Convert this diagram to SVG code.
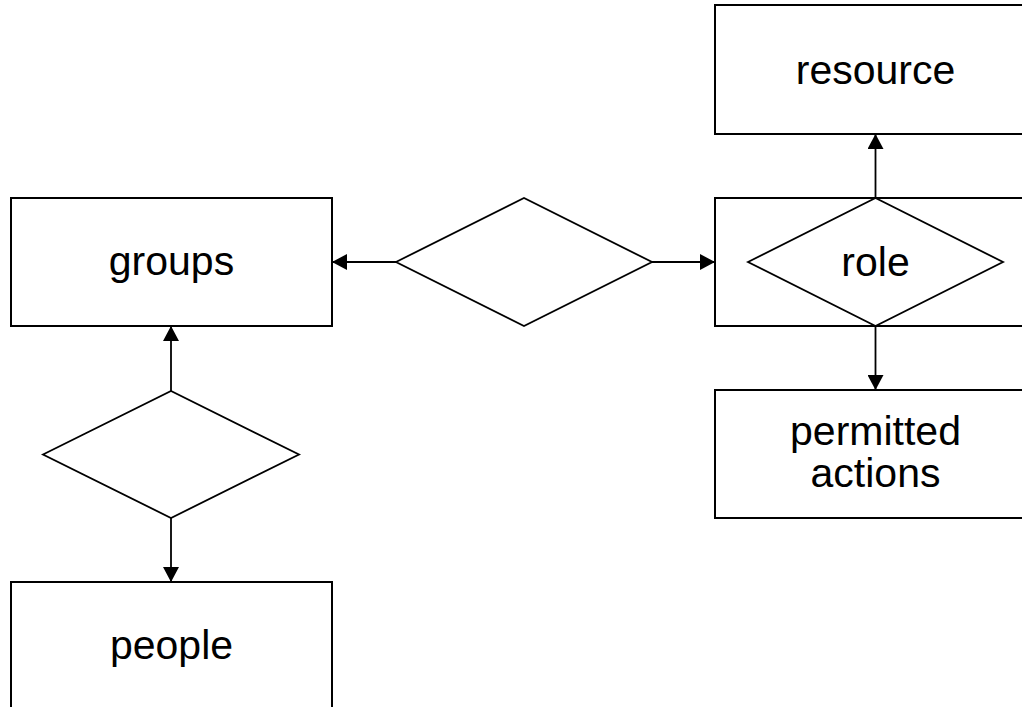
<svg xmlns="http://www.w3.org/2000/svg" width="1022" height="707" viewBox="0 0 1022 707">
<style>
.box{fill:#fff;stroke:#000;stroke-width:2}
.dia{fill:#fff;stroke:#000;stroke-width:1.8}
.lbl{font-family:"Liberation Sans",Arial,sans-serif;font-size:41px;fill:#000;text-anchor:middle}
.con{stroke:#000;stroke-width:1.8;fill:none;marker-end:url(#arr)}
</style>
<defs>
<marker id="arr" viewBox="0 0 15 16" refX="15" refY="8" markerWidth="15" markerHeight="16" orient="auto" markerUnits="userSpaceOnUse">
<path d="M0,0 L15,8 L0,16 Z" fill="#000"/>
</marker>
</defs>
<rect width="1022" height="707" fill="#fff"/>
<g id="resource"><rect class="box" x="715" y="5" width="321" height="129"/><text class="lbl" x="875.5" y="84">resource</text></g>
<g id="role-box"><rect class="box" x="715" y="198" width="321" height="128"/></g>
<g id="role"><polygon class="dia" points="748,262 875.5,198 1003,262 875.5,326"/><text class="lbl" x="875.5" y="276">role</text></g>
<g id="permitted-actions"><rect class="box" x="715" y="390" width="321" height="128"/><text class="lbl" x="875.5" y="445">permitted</text><text class="lbl" x="875.5" y="487">actions</text></g>
<g id="groups"><rect class="box" x="11" y="198" width="321" height="128"/><text class="lbl" x="171.5" y="275">groups</text></g>
<g id="assign"><polygon class="dia" points="396,262 524,198 652,262 524,326"/></g>
<g id="membership"><polygon class="dia" points="43,454.5 171,391 299,454.5 171,518"/></g>
<g id="people"><rect class="box" x="11" y="582" width="321" height="130"/><text class="lbl" x="171.5" y="659">people</text></g>
<g id="connectors">
<line class="con" x1="875.5" y1="198" x2="875.5" y2="134"/>
<line class="con" x1="875.5" y1="326" x2="875.5" y2="390"/>
<line class="con" x1="396" y1="262" x2="332" y2="262"/>
<line class="con" x1="652" y1="262" x2="715" y2="262"/>
<line class="con" x1="171" y1="391" x2="171" y2="326"/>
<line class="con" x1="171" y1="518" x2="171" y2="582"/>
</g>
</svg>
